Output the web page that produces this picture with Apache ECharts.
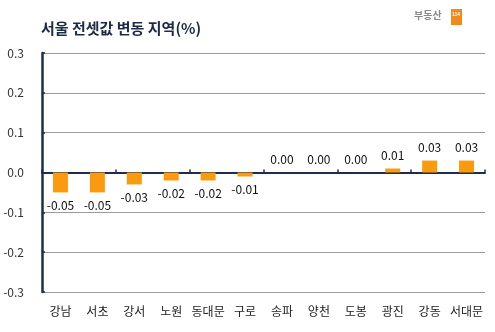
<!DOCTYPE html>
<html><head><meta charset="utf-8">
<script src="https://cdn.jsdelivr.net/npm/echarts@6/dist/echarts.min.js"></script>
<style>html,body{margin:0;padding:0;background:#fff}#c{width:495px;height:332px}</style>
</head><body><div id="c"></div>
<script>
var categories = ['강남','서초','강서','노원','동대문','구로','송파','양천','도봉','광진','강동','서대문'];
var values = [-0.05,-0.05,-0.03,-0.02,-0.02,-0.01,0.00,0.00,0.00,0.01,0.03,0.03];
var yTicks = [-0.3,-0.2,-0.1,0.0,0.1,0.2,0.3];
var titleText = '서울 전셋값 변동 지역(%)';

var font = '"Noto Sans CJK KR", "DejaVu Sans", sans-serif';
var chart = echarts.init(document.getElementById('c'));
chart.setOption({
  animation: false,
  backgroundColor: '#fff',
  title: {
    text: titleText, left: 36, top: 16,
    textStyle: {fontSize: 15, fontWeight: 'bold', color: '#1c2a48', fontFamily: font}
  },
  graphic: [
    {type: 'text', left: 414, top: 10, style: {text: '부동산', fill: '#8a8a8a', font: 'bold 10px ' + font}},
    {type: 'rect', left: 451, top: 9, shape: {width: 11, height: 16}, style: {fill: '#f08a1c'}},
    {type: 'text', left: 452, top: 12, style: {text: '114', fill: '#fff', font: 'bold 5px sans-serif'}}
  ],
  grid: {left: 42, right: 10, top: 53, bottom: 40, containLabel: false},
  xAxis: [{
    type: 'category', data: categories, position: 'bottom',
    axisLine: {show: false, onZero: false}, axisTick: {show: false},
    axisLabel: {margin: 13, fontSize: 12, color: '#222', fontFamily: font, interval: 0}
  }, {
    type: 'category', data: categories, position: 'bottom',
    axisLine: {show: true, onZero: true, lineStyle: {color: '#1c2e4a', width: 2}},
    axisTick: {show: true, inside: true, length: 3, lineStyle: {color: '#1c2e4a', width: 1.5}},
    axisLabel: {show: false}
  }],
  yAxis: {
    type: 'value', min: yTicks[0], max: yTicks[yTicks.length - 1], interval: 0.1,
    axisLine: {show: true, lineStyle: {color: '#1c2e4a', width: 2.5}},
    axisTick: {show: true, inside: true, length: 3, lineStyle: {color: '#1c2e4a', width: 1.5}},
    axisLabel: {margin: 18, fontSize: 12, color: '#333', fontFamily: font,
      formatter: function (v) { return (Math.round(v * 10) / 10).toFixed(1); }},
    splitLine: {show: true, lineStyle: {color: '#9a9a9a', width: 1}}
  },
  series: [{
    type: 'bar', xAxisIndex: 0, barWidth: 15,
    data: values.map(function (v) {
      return {value: v, label: {position: v < 0 ? 'bottom' : 'top'}};
    }),
    itemStyle: {color: '#fb9a0e'},
    label: {
      show: true, fontSize: 12, color: '#111', fontFamily: font, distance: 7,
      formatter: function (p) { return p.value.toFixed(2); }
    }
  }]
});
</script></body></html>
